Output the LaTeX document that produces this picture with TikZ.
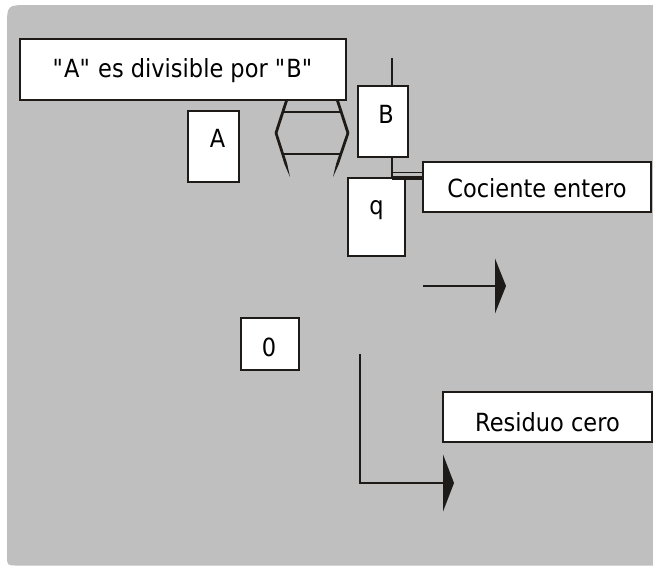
\documentclass[tikz,border=0pt]{standalone}
\usepackage{fontspec}
\setmainfont{DejaVu Sans}[FakeStretch=0.9]
\usetikzlibrary{arrows.meta}
\definecolor{bgc}{RGB}{191,191,191}
\definecolor{ink}{RGB}{30,26,23}
\begin{document}
\begin{tikzpicture}[x=1pt,y=-1pt,
  font=\fontsize{25}{30}\selectfont,
  bx/.style={draw=ink, line width=1.5pt, fill=white, inner sep=0pt},
  conn/.style={draw=ink, line width=1.5pt},
  bigtip/.style={-{Triangle[length=11pt,width=#1,fill=ink]}, draw=ink, line width=1.5pt},
  hexline/.style={draw=ink, line width=2.8pt, line cap=round}]
% canvas
\fill[white] (0,0) rectangle (653,566);
\useasboundingbox (0,0) rectangle (653,566);
\fill[bgc] (653,5) -- (29,5) .. controls (7,5) .. (7,27) -- (7,555)
  .. controls (7,565.5) .. (17,565.5) -- (653,565.5) -- cycle;
% hexagon-like symbol
\draw[hexline] (288,96) -- (276,133);
\draw[hexline] (336,96) -- (348,133);
\fill[ink] (274.7,133.4) -- (284.5,164.2) -- (290,177) -- (287.1,163.4) -- (277.3,132.6) -- cycle;
\fill[ink] (346.7,132.5) -- (336.2,163.4) -- (333,177) -- (338.8,164.3) -- (349.3,133.5) -- cycle;
\draw[draw=ink, line width=2.5pt] (283.6,112) -- (340.4,112);
\draw[draw=ink, line width=2.5pt] (282.7,154) -- (340.8,154);
% boxes
\node[bx, minimum width=326pt, minimum height=61pt, label={[yshift=-1pt]center:\textquotedbl A\textquotedbl{} es divisible por \textquotedbl B\textquotedbl}] (title) at (183,69.5) {};
\node[bx, minimum width=51pt, minimum height=71pt, label={[xshift=4pt,yshift=8pt]center:A}] (A) at (213.5,146.5) {};
\node[bx, minimum width=50pt, minimum height=71pt, label={[xshift=3pt,yshift=7.5pt]center:B}] (B) at (383,121.5) {};
\node[bx, minimum width=57pt, minimum height=78pt, label={[yshift=6.5pt]center:q}] (q) at (376.5,217) {};
\node[bx, minimum width=228pt, minimum height=50pt, label={[yshift=-1.5pt]center:Cociente entero}] (coc) at (537,187) {};
\node[bx, minimum width=58pt, minimum height=52pt, label={[xshift=-1pt,yshift=-3.5pt]center:0}] (zero) at (270,344) {};
\node[bx, minimum width=209pt, minimum height=50pt, label={[yshift=-5pt]center:Residuo cero}] (res) at (547.5,417) {};
% connectors
\coordinate (top) at (392,58);
\draw[conn] (top) -- (top |- B.north);
\draw[conn] (top |- B.south) -- (top |- q.north);
\coordinate (j1) at (392,172.5);
\coordinate (j2) at (392,177.5);
\draw[draw=ink, line width=1pt] (j1) -- (j1 -| coc.west);
\draw[draw=ink, line width=4pt] (j2) -- (j2 -| coc.west);
\coordinate (a1) at (423,286);
\coordinate (a1e) at (506,286);
\draw[bigtip=55pt] (a1) -- (a1e);
\coordinate (a2) at (360,354);
\coordinate (a2e) at (454,483);
\draw[bigtip=57pt] (a2) |- (a2e);
\end{tikzpicture}
\end{document}
